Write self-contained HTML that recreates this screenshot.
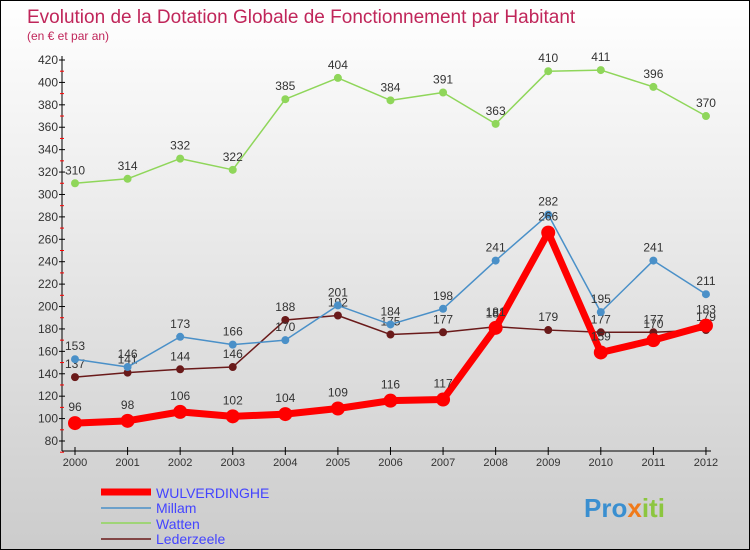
<!DOCTYPE html>
<html><head><meta charset="utf-8"><style>
body{margin:0}
#c{width:748px;height:548px;border:1px solid #000;background:linear-gradient(#fff,#ccc);position:relative;font-family:"Liberation Sans",sans-serif;overflow:hidden}
</style></head><body>
<div id="c">
<svg id="s" width="748" height="548" xmlns="http://www.w3.org/2000/svg" font-family="Liberation Sans, sans-serif">
<text x="26" y="22" font-size="19" fill="#c0265a">Evolution de la Dotation Globale de Fonctionnement par Habitant</text>
<text x="26" y="39" font-size="12" fill="#c0265a">(en € et par an)</text>
<g id="axes"></g><g id="series"></g>
<g font-size="14">
<line x1="100" y1="491" x2="150" y2="491" stroke="#f00" stroke-width="7"/><text x="155" y="497" fill="#44f">WULVERDINGHE</text>
<line x1="100" y1="507" x2="150" y2="507" stroke="#4a90c8" stroke-width="1.5"/><text x="155" y="512" fill="#44f">Millam</text>
<line x1="100" y1="522" x2="150" y2="522" stroke="#8fd65a" stroke-width="1.5"/><text x="155" y="528" fill="#44f">Watten</text>
<line x1="100" y1="538" x2="150" y2="538" stroke="#6a1a1a" stroke-width="1.5"/><text x="155" y="543" fill="#44f">Lederzeele</text>
</g>
<text x="583" y="516" font-size="26" font-weight="bold"><tspan fill="#3a8fd0">Pro</tspan><tspan fill="#f07a1a">x</tspan><tspan fill="#8cc63f">iti</tspan></text>
</svg></div>
<script>
const years=["2000","2001","2002","2003","2004","2005","2006","2007","2008","2009","2010","2011","2012"];
const wulverdinghe=[96,98,106,102,104,109,116,117,181,266,159,170,183];
const millam=[153,146,173,166,170,201,184,198,241,282,195,241,211];
const watten=[310,314,332,322,385,404,384,391,363,410,411,396,370];
const lederzeele=[137,141,144,146,188,192,175,177,182,179,177,177,179];
const yTicks=[80,100,120,140,160,180,200,220,240,260,280,300,320,340,360,380,400,420];
const NS="http://www.w3.org/2000/svg";
const xS=i=>74+i*52.58, yS=v=>440-(v-80)*381/340;
function mk(t,a,p){const e=document.createElementNS(NS,t);for(const k in a)e.setAttribute(k,a[k]);p.appendChild(e);return e;}
const ax=document.getElementById('axes'), sg=document.getElementById('series');
let l=mk('line',{x1:61,y1:55,x2:61,y2:450,stroke:'#000'},ax);


l=mk('line',{x1:61,y1:450,x2:710,y2:450,stroke:'#000'},ax);


yTicks.forEach(v=>{const y=yS(v);mk('line',{x1:58,y1:y,x2:64,y2:y,stroke:'#000'},ax);
mk('line',{x1:59,y1:y+11.2,x2:63,y2:y+11.2,stroke:'#f00'},ax);
const t=mk('text',{x:57,y:y+4,'font-size':12,'text-anchor':'end',fill:'#333'},ax);t.textContent=v;

});
years.forEach((yr,i)=>{const x=xS(i);mk('line',{x1:x,y1:446,x2:x,y2:454,stroke:'#000'},ax);
const t=mk('text',{x:x,y:465,'font-size':11,'text-anchor':'middle',fill:'#333'},ax);t.textContent=yr;

});
function draw(name,data,col,w,r){const g=mk('g',{},sg);


mk('polyline',{points:data.map((v,i)=>xS(i)+','+yS(v)).join(' '),fill:'none',stroke:col,'stroke-width':w,'stroke-linejoin':'round'},g);
data.forEach((v,i)=>{const c=mk('circle',{cx:xS(i),cy:yS(v),r:r,fill:col},g);


const t=mk('text',{x:xS(i),y:yS(v)-9-(r>5?3:0),'font-size':12,'text-anchor':'middle',fill:'#333'},g);t.textContent=v;

});}
draw('watten',watten,'#8fd65a',1.5,4);
draw('lederzeele',lederzeele,'#6a1a1a',1.5,4);
draw('millam',millam,'#4a90c8',1.5,4);
draw('wulverdinghe',wulverdinghe,'#f00',7,7);
</script></body></html>
